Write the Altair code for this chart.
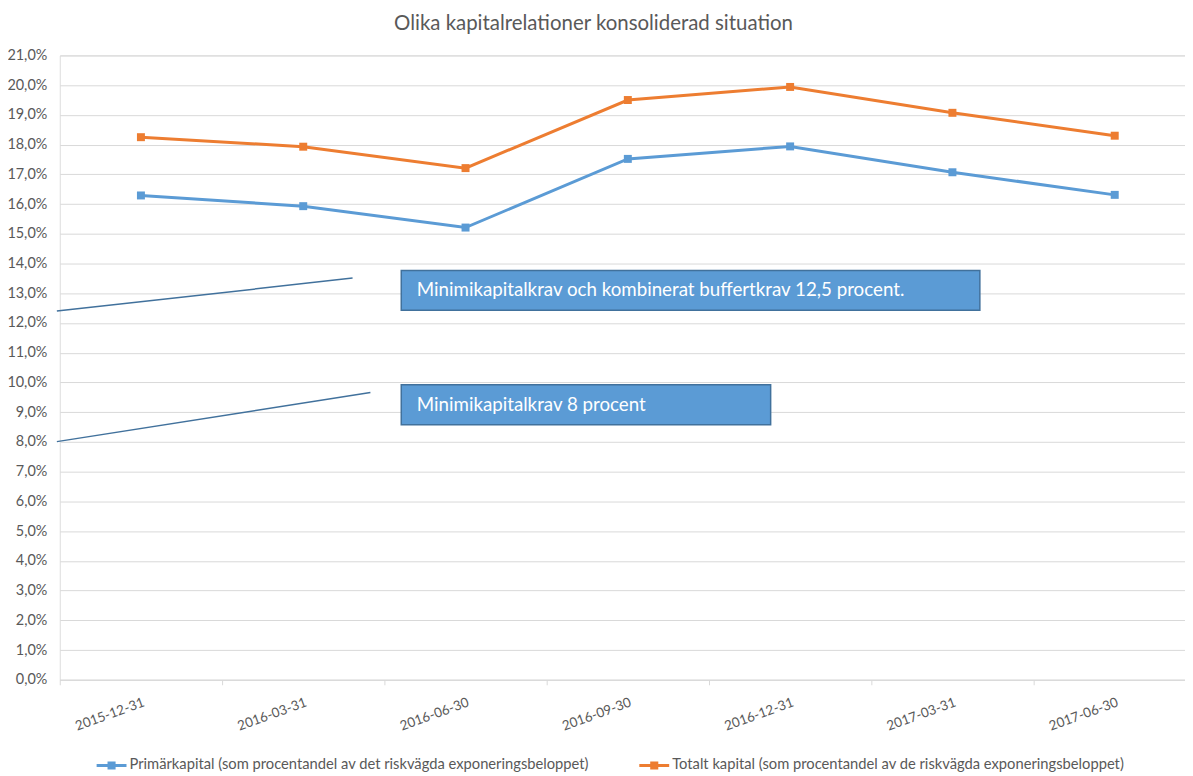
import altair as alt
import pandas as pd

# ---- data ----
dates = ["2015-12-31", "2016-03-31", "2016-06-30", "2016-09-30",
         "2016-12-31", "2017-03-31", "2017-06-30"]
primar = [16.29, 15.93, 15.21, 17.52, 17.94, 17.07, 16.31]
totalt = [18.25, 17.93, 17.21, 19.50, 19.94, 19.07, 18.30]
series = ["Primärkapital (som procentandel av det riskvägda exponeringsbeloppet)",
          "Totalt kapital (som procentandel av de riskvägda exponeringsbeloppet)"]
colors = ["#5B9BD5", "#ED7D31"]
y_ticks = [float(v) for v in range(0, 22)]

# annotation callouts (in data units: x = category index, y = percent)
ann_text = ["Minimikapitalkrav och kombinerat buffertkrav 12,5 procent.",
            "Minimikapitalkrav 8 procent"]
ann_box_x = [1.604, 1.604]
ann_box_x2 = [5.169, 3.880]
ann_box_y = [13.77, 9.92]
ann_box_y2 = [12.43, 8.58]
ann_text_x = [1.70, 1.70]
ann_text_y = [13.10, 9.25]
lead_x = [-0.518, -0.518]
lead_x2 = [1.304, 1.414]
lead_y = [12.40, 8.01]
lead_y2 = [13.51, 9.66]

FONT = "Lato"
GREY = "#595959"
GRID = "#d9d9d9"

df = pd.DataFrame({
    "idx": list(range(len(dates))) * 2,
    "datum": dates * 2,
    "value": primar + totalt,
    "serie": [series[0]] * len(dates) + [series[1]] * len(dates),
})
boxes = pd.DataFrame({"idx": ann_box_x, "x2": ann_box_x2, "value": ann_box_y, "y2": ann_box_y2})
texts = pd.DataFrame({"idx": ann_text_x, "value": ann_text_y, "t": ann_text})
leads = pd.DataFrame({"idx": lead_x, "x2": lead_x2, "value": lead_y, "y2": lead_y2})

label_expr = "[" + ",".join(f"'{d}'" for d in dates) + "][round(datum.value + 0.5)]"

x_scale = alt.Scale(domain=[-0.5, 6.433], nice=False, zero=False)
y_scale = alt.Scale(domain=[0, 21], nice=False, zero=False)

x_axis = alt.Axis(
    values=[i - 0.5 for i in range(len(dates))], labelExpr=label_expr,
    labelOffset=84, labelAngle=340, labelAlign="right", labelBaseline="middle",
    labelPadding=17, labelOverlap=False, labelFlush=False, labelBound=False,
    tickSize=5, tickColor=GRID, domainColor=GRID, grid=False, title=None,
    labelColor=GREY, labelFont=FONT, labelFontSize=13.5)
y_axis = alt.Axis(
    values=y_ticks, tickCount=22,
    labelExpr="replace(format(datum.value, '.1f'), '.', ',') + '%'",
    grid=True, gridColor=GRID, domain=False, ticks=False, labelPadding=13,
    labelColor=GREY, labelFont=FONT, labelFontSize=14.5, labelFlush=False,
    labelOverlap=False, labelBound=False, title=None)

x_enc = alt.X("idx:Q", scale=x_scale, axis=x_axis)
y_enc = alt.Y("value:Q", scale=y_scale, axis=y_axis)

sym_path = "M-1,-0.1H1V0.1H-1Z M-0.27,-0.27H0.27V0.27H-0.27Z"

lines = alt.Chart(df).mark_line(strokeWidth=3).encode(
    x=x_enc, y=y_enc,
    stroke=alt.Stroke("serie:N", scale=alt.Scale(domain=series, range=colors), legend=None),
    detail="serie:N")

points = alt.Chart(df).mark_square(size=64, opacity=1).encode(
    x=x_enc, y=y_enc,
    fill=alt.Fill("serie:N", scale=alt.Scale(domain=series, range=colors), legend=alt.Legend(
        orient="none", legendX=37, legendY=698, direction="horizontal", title=None,
        symbolType=sym_path, symbolSize=900, symbolStrokeWidth=0,
        labelFont=FONT, labelFontSize=14.8, labelColor=GREY, labelLimit=0,
        columnPadding=50, labelOffset=3, padding=0)))

lead_layer = alt.Chart(leads).mark_rule(color="#41719C", strokeWidth=1.5).encode(
    x=x_enc, x2="x2", y=y_enc, y2="y2")

box_layer = alt.Chart(boxes).mark_rect(fill="#5B9BD5", stroke="#41719C", strokeWidth=1.5).encode(
    x=x_enc, x2="x2", y=y_enc, y2="y2")

text_layer = alt.Chart(texts).mark_text(
    align="left", baseline="middle", color="white", font=FONT, fontSize=18.8).encode(
    x=x_enc, y=y_enc, text="t:N")

chart = alt.layer(lines, points, lead_layer, box_layer, text_layer).resolve_scale(
    stroke="independent", fill="independent"
).properties(
    width=1130, height=627,
    padding={"left": 52, "top": 46, "right": 0, "bottom": 93},
    autosize=alt.AutoSizeParams(type="none"),
    title=alt.TitleParams(
        text="Olika kapitalrelationer konsoliderad situation",
        font=FONT, fontSize=20.5, fontWeight="normal", color=GREY,
        anchor="middle", frame="group", offset=10, baseline="alphabetic",
        dx=-29, dy=13),
).configure_view(stroke=None).configure(background="white")

chart.save("out.html", embed_options={"renderer": "svg", "actions": False})
